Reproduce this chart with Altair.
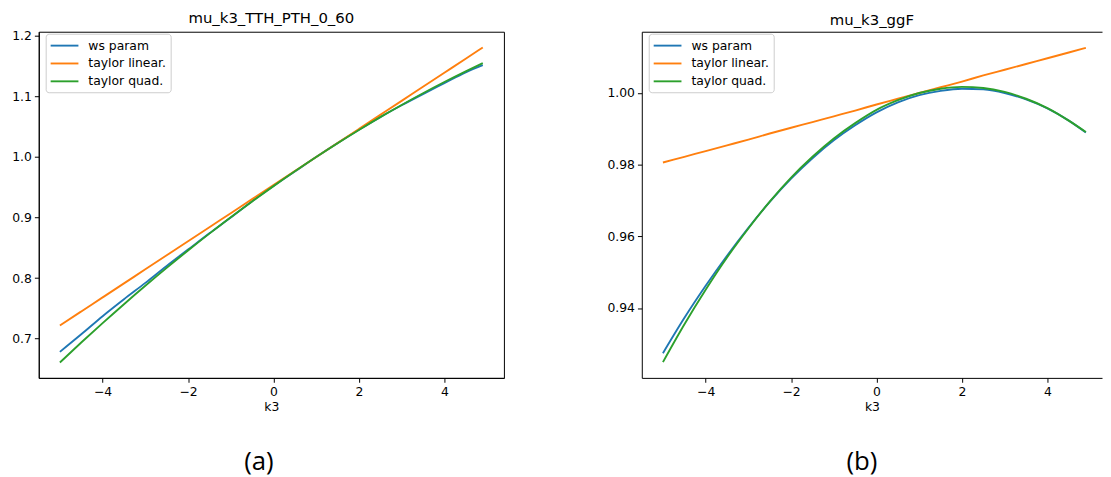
import altair as alt
import pandas as pd

# ---------------- data ----------------
k3 = [-5.0, -4.5, -4.0, -3.5, -3.0, -2.5, -2.0, -1.5, -1.0, -0.5, 0.0,
      0.5, 1.0, 1.5, 2.0, 2.5, 3.0, 3.5, 4.0, 4.5, 4.9]

series_names = ["ws param", "taylor linear.", "taylor quad."]
series_colors = ["#1f77b4", "#ff7f0e", "#2ca02c"]

# panel (a): mu_k3_TTH_PTH_0_60
tth_ws = [0.678, 0.707, 0.737, 0.765, 0.792, 0.820, 0.847, 0.874, 0.900, 0.927, 0.952,
          0.976, 1.000, 1.023, 1.045, 1.066, 1.0855, 1.104, 1.122, 1.140, 1.152]
tth_lin = [0.7216, 0.7448, 0.768, 0.7912, 0.8144, 0.8376, 0.8608, 0.884, 0.9072, 0.9304, 0.9536,
           0.9768, 1.000, 1.0232, 1.0464, 1.0696, 1.0928, 1.116, 1.1392, 1.1624, 1.181]
tth_quad = [0.6604, 0.6934, 0.7255, 0.7568, 0.7872, 0.8168, 0.8455, 0.8734, 0.9004, 0.9266, 0.9519,
            0.9764, 1.000, 1.0228, 1.0447, 1.0658, 1.0860, 1.1054, 1.1239, 1.1416, 1.1551]

# panel (b): mu_k3_ggF
ggf_ws = [0.9274, 0.9372, 0.9462, 0.9546, 0.9624, 0.9696, 0.9761, 0.9818, 0.9868, 0.9910, 0.9946,
          0.9974, 0.9994, 1.0006, 1.0012, 1.0010, 1.0000, 0.9982, 0.9957, 0.9923, 0.9890]
ggf_lin = [0.9806, 0.9822, 0.9838, 0.9854, 0.9870, 0.9887, 0.9903, 0.9919, 0.9935, 0.9951, 0.9968,
           0.9984, 1.0000, 1.0016, 1.0032, 1.0049, 1.0065, 1.0081, 1.0097, 1.0113, 1.0126]
ggf_quad = [0.9249, 0.9354, 0.9451, 0.9541, 0.9622, 0.9697, 0.9764, 0.9822, 0.9873, 0.9916, 0.9953,
            0.9980, 1.0000, 1.0012, 1.0017, 1.0014, 1.0003, 0.9984, 0.9958, 0.9923, 0.9891]

x_ticks = [-4, -2, 0, 2, 4]
tth_yticks = [0.7, 0.8, 0.9, 1.0, 1.1, 1.2]
ggf_yticks = [0.94, 0.96, 0.98, 1.00]

FONT = "DejaVu Sans"
PLOT_H = 349


def long_df(ws, lin, quad):
    rows = []
    for name, vals in zip(series_names, [ws, lin, quad]):
        for i, (x, v) in enumerate(zip(k3, vals)):
            rows.append({"k3": x, "mu": v, "series": name, "idx": i})
    return pd.DataFrame(rows)


def panel(df, title, caption, xdom, ydom, yticks, yfmt, yext, width, right_cut):
    base = alt.Chart(df)
    lines = base.mark_line(strokeWidth=1.9, interpolate="monotone").encode(
        x=alt.X("k3:Q", scale=alt.Scale(domain=xdom, nice=False, zero=False),
                axis=alt.Axis(values=x_ticks, format="d", title="k3", titlePadding=3)),
        y=alt.Y("mu:Q", scale=alt.Scale(domain=ydom, nice=False, zero=False),
                axis=alt.Axis(values=yticks, format=yfmt, title=None,
                              minExtent=yext, maxExtent=yext)),
        color=alt.Color("series:N", sort=series_names,
                        scale=alt.Scale(domain=series_names, range=series_colors),
                        legend=alt.Legend(orient="none", legendX=7, legendY=2, title=None,
                                          symbolType="M-2,0H2", symbolSize=196,
                                          symbolOffset=7,
                                          symbolStrokeWidth=1.9, labelFont=FONT,
                                          labelFontSize=12.5, labelColor="black",
                                          labelOffset=16, padding=4, rowPadding=3,
                                          strokeColor="#cccccc",
                                          fillColor="rgba(255,255,255,0.8)",
                                          cornerRadius=3)),
        order=alt.Order("idx:Q"),
    )
    cap_df = pd.DataFrame({"cap": [caption]})
    cap = alt.Chart(cap_df).mark_text(font="Open Sans", fontSize=26, baseline="middle",
                                       align="center", color="black").encode(
        text="cap:N", x=alt.value(222), y=alt.value(PLOT_H + 85))
    layers = [lines, cap]
    if right_cut:
        top = base.mark_point(opacity=0).encode(
            x=alt.X("k3:Q", axis=alt.Axis(orient="top", labels=False, ticks=False,
                                          title=None, domainColor="black")),
        )
        layers.append(top)
    ch = alt.layer(*layers).properties(
        width=width, height=PLOT_H,
        title=alt.TitleParams(title, font=FONT, fontSize=15, fontWeight="normal",
                              color="black", offset=4, anchor="middle"),
    )
    if right_cut:
        ch = ch.resolve_axis(x="independent").properties(
            view=alt.ViewBackground(stroke="transparent"))
    return ch


left = panel(long_df(tth_ws, tth_lin, tth_quad), "mu_k3_TTH_PTH_0_60", "(a)",
             [-5.495, 5.395], [0.635, 1.207], tth_yticks, ".1f", 30, 469, False)
right = panel(long_df(ggf_ws, ggf_lin, ggf_quad), "mu_k3_ggF", "(b)",
              [-5.495, 5.278], [0.9205, 1.0171], ggf_yticks, ".2f", 36, 464, True)

chart = alt.hconcat(left, right, spacing=101).resolve_legend(
    color="independent"
).resolve_scale(y="independent", x="independent").properties(padding=0).configure_view(
    stroke="black", strokeWidth=1
).configure_axis(
    domainColor="black", domainWidth=1, tickColor="black", tickWidth=1, tickSize=4.4,
    labelColor="black", titleColor="black", labelFont=FONT, titleFont=FONT,
    labelFontSize=12.5, titleFontSize=12.5, titleFontWeight="normal",
    labelPadding=3, grid=False,
)

chart.save("out.html", embed_options={"renderer": "svg", "actions": False})
